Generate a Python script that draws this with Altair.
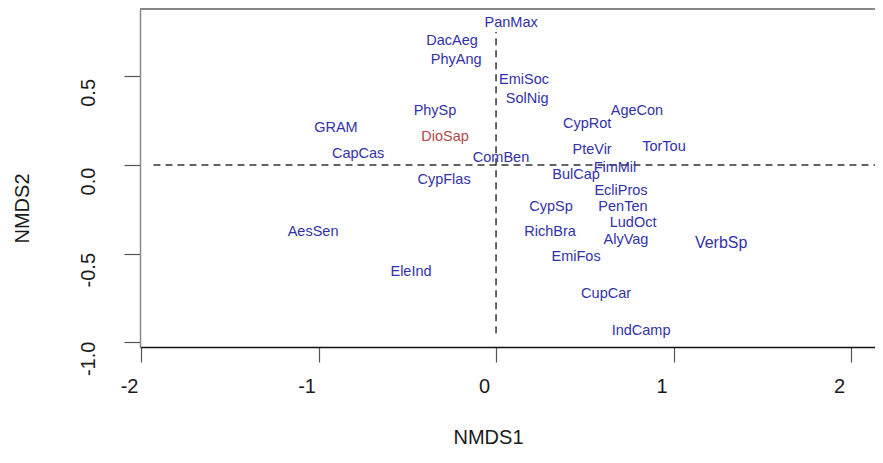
import altair as alt
import pandas as pd

FONT = "Liberation Sans"

# species scores
labels = ["PanMax", "DacAeg", "PhyAng", "EmiSoc", "SolNig", "PhySp", "GRAM", "DioSap",
          "CapCas", "ComBen", "CypRot", "AgeCon", "PteVir", "TorTou", "FimMil", "BulCap",
          "EcliPros", "CypSp", "PenTen", "LudOct", "RichBra", "AlyVag", "VerbSp", "EmiFos",
          "CupCar", "IndCamp", "CypFlas", "AesSen", "EleInd"]
nmds1 = [0.085, -0.248, -0.225, 0.158, 0.175, -0.344, -0.902, -0.287,
         -0.777, 0.028, 0.513, 0.794, 0.541, 0.946, 0.670, 0.451,
         0.704, 0.310, 0.715, 0.772, 0.304, 0.732, 1.268, 0.451,
         0.620, 0.817, -0.293, -1.031, -0.479]
nmds2 = [0.800, 0.700, 0.593, 0.480, 0.372, 0.305, 0.209, 0.158,
         0.062, 0.040, 0.231, 0.305, 0.085, 0.102, -0.017, -0.056,
         -0.147, -0.237, -0.237, -0.327, -0.378, -0.423, -0.440, -0.519,
         -0.728, -0.937, -0.085, -0.378, -0.604]

x_ticks = [-2, -1, 0, 1, 2]
y_ticks = [-1.0, -0.5, 0.0, 0.5]
x_domain = [-2.006, 2.135]
y_domain = [-1.026, 0.88]

# dashed reference lines (x = 0 and y = 0)
vline_x = [0.0]
vline_y = [-0.948, 0.75]
hline_y = [0.0]
hline_x = [-1.93, 2.3]

W, H = 735, 338

df = pd.DataFrame({"label": labels, "NMDS1": nmds1, "NMDS2": nmds2})
vdf = pd.DataFrame({"NMDS1": vline_x, "NMDS2": [vline_y[0]], "NMDS2_end": [vline_y[1]]})
hdf = pd.DataFrame({"NMDS1": [hline_x[0]], "NMDS1_end": [hline_x[1]], "NMDS2": hline_y})

xs = alt.Scale(domain=x_domain, nice=False, zero=False)
ys = alt.Scale(domain=y_domain, nice=False, zero=False)

xaxis = alt.Axis(
    values=x_ticks, grid=False, title="NMDS1",
    labelExpr="replace(toString(datum.value), '\u2212', '-')",
    domainColor="#111111", domainWidth=1.5,
    tickColor="#555555", tickWidth=1.2, tickSize=15,
    labelFont=FONT, labelFontSize=20, labelColor="#1a1a1a",
    labelPadding=14, labelOffset=-12, labelFlush=False, labelOverlap=False,
    titleFont=FONT, titleFontSize=20, titleFontWeight="normal", titleColor="#1a1a1a",
    titleX=348, titleY=90, titleBaseline="middle", titleAlign="center",
)
yaxis = alt.Axis(
    values=y_ticks, grid=False, title="NMDS2",
    labelExpr="replace(format(datum.value, '.1f'), '\u2212', '-')",
    domainColor="#888888", domainWidth=1.5,
    tickColor="#555555", tickWidth=1.2, tickSize=16,
    labelFont=FONT, labelFontSize=20, labelColor="#1a1a1a",
    labelAngle=270, labelAlign="center", labelBaseline="alphabetic",
    labelPadding=30, labelOffset=16, labelFlush=False, labelOverlap=False,
    titleFont=FONT, titleFontSize=20, titleFontWeight="normal", titleColor="#1a1a1a",
    titleAngle=270, titleX=-118, titleY=199, titleBaseline="middle", titleAlign="center",
)

X = alt.X("NMDS1:Q", scale=xs, axis=xaxis)
Y = alt.Y("NMDS2:Q", scale=ys, axis=yaxis)

text = alt.Chart(df).mark_text(font=FONT, baseline="middle", align="center").encode(
    x=X, y=Y, text="label:N",
    color=alt.condition(alt.datum.label == "DioSap", alt.value("#b04a4a"), alt.value("#3232aa")),
    size=alt.condition(alt.datum.label == "VerbSp", alt.value(16), alt.value(14.5)),
)

vrule = alt.Chart(vdf).mark_rule(color="#333333", strokeWidth=1.5, strokeDash=[7, 5]).encode(
    x=X, y=Y, y2="NMDS2_end:Q"
)
hrule = alt.Chart(hdf).mark_rule(color="#333333", strokeWidth=1.5, strokeDash=[7, 5], clip=True).encode(
    x=X, x2="NMDS1_end:Q", y=Y
)
top = alt.Chart(df).mark_rule(color="#888888", strokeWidth=1.5).encode(
    x=alt.value(0), x2=alt.value(W), y=alt.value(0)
)

chart = alt.layer(hrule, vrule, top, text).properties(
    width=W, height=H,
    autosize="none",
    padding={"left": 132, "top": 1, "right": 0, "bottom": 104},
    background="white",
).configure_view(stroke=None)

chart.save("out.html", embed_options={"renderer": "svg", "actions": False})
